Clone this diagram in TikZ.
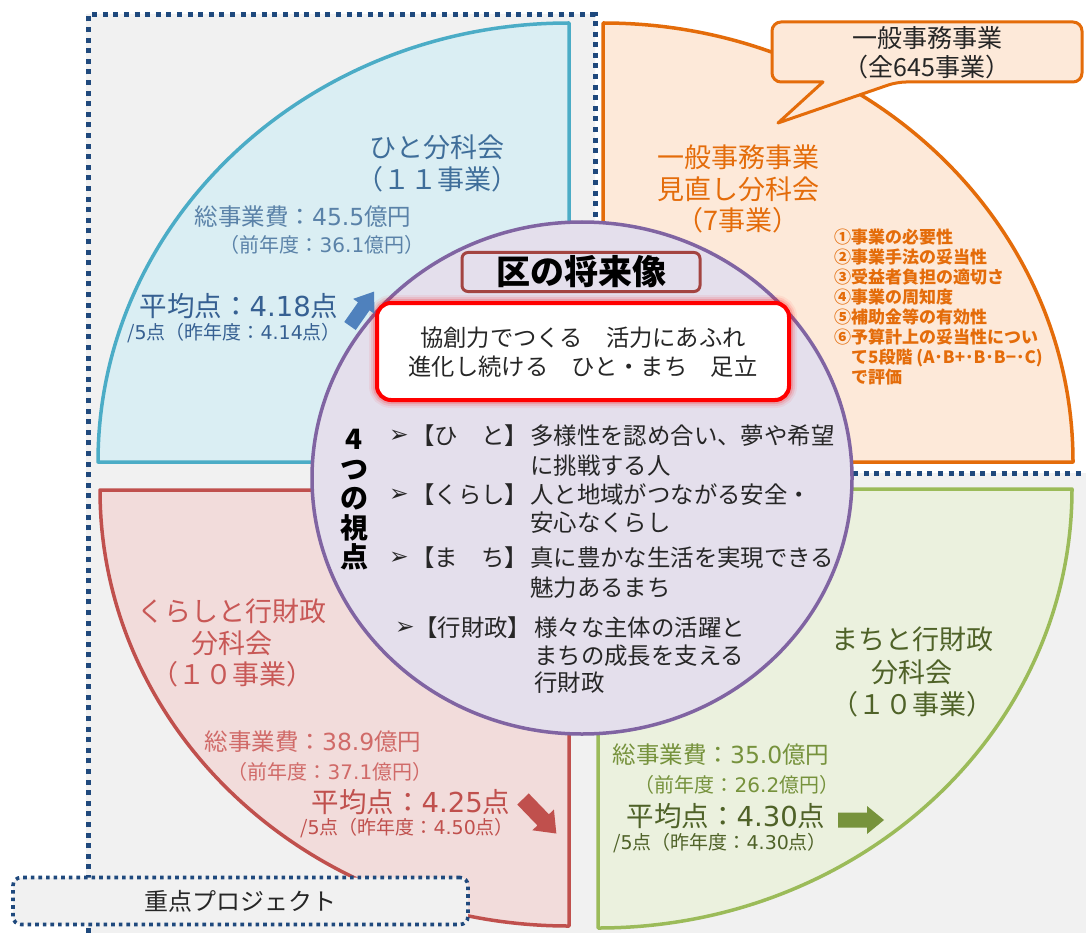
\documentclass[tikz,border=0pt]{standalone}
\usepackage{fontspec}
\setmainfont{Noto Sans CJK JP}
\newfontfamily\dv{DejaVu Sans}
\newcommand\nm[1]{{\dv #1}}
\newcommand\fs[2]{\fontsize{#1}{#2}\selectfont}
\definecolor{bgG}{HTML}{F1F1F1}
\definecolor{navy}{HTML}{1F497D}
\definecolor{cyF}{HTML}{DAEEF3}
\definecolor{cyL}{HTML}{4BACC6}
\definecolor{orF}{HTML}{FDE9D9}
\definecolor{orL}{HTML}{E46C0A}
\definecolor{rdF}{HTML}{F2DCDB}
\definecolor{rdL}{HTML}{C0504D}
\definecolor{grF}{HTML}{EBF1DE}
\definecolor{grL}{HTML}{9BBB59}
\definecolor{puF}{HTML}{E4DFEC}
\definecolor{puL}{HTML}{8064A2}
\definecolor{tlT}{HTML}{3F6E9A}
\definecolor{tlS}{HTML}{5A82A8}
\definecolor{tlA}{HTML}{366092}
\definecolor{blA}{HTML}{4F81BD}
\definecolor{rdT}{HTML}{C85856}
\definecolor{rdS}{HTML}{D06A68}
\definecolor{grT}{HTML}{4F6228}
\definecolor{grS}{HTML}{76923C}
\definecolor{grA}{HTML}{77933C}
\definecolor{txK}{HTML}{262626}
\tikzset{
  quad/.style={line width=3.5pt, line join=round},
  dotline/.style={draw=navy, line width=5pt, dash pattern=on 5pt off 5.6pt},
  txt/.style={inner sep=0pt, align=center},
  item/.style={inner sep=0pt, anchor=west, text=txK, font=\fs{23.4}{28}},
}
\begin{document}
\begin{tikzpicture}[x=1pt,y=-1pt]
\useasboundingbox (0,0) rectangle (1086,933);
\fill[white] (0,0) rectangle (1086,933);
% background region of the priority project
\fill[bgG] (86,14) -- (595,14) -- (595,473) -- (1086,473) -- (1086,933) -- (86,933) -- cycle;
\draw[dotline] (88,933) -- (88,15) -- (595,15) -- (595,473) -- (1086,473);
% four quadrants
\filldraw[quad, fill=cyF, draw=cyL] (569,462) -- (98,462) arc[start angle=180, end angle=270, x radius=471, y radius=439] -- cycle;
\filldraw[quad, fill=orF, draw=orL] (603,462) -- (603,23) arc[start angle=270, end angle=360, x radius=470, y radius=439] -- cycle;
\filldraw[quad, fill=rdF, draw=rdL] (569,490) -- (100,490) arc[start angle=180, end angle=90, x radius=469, y radius=436] -- cycle;
\filldraw[quad, fill=grF, draw=grL] (598,489) -- (1072,489) arc[start angle=0, end angle=90, x radius=474, y radius=439] -- cycle;
% central circle
\filldraw[fill=puF, draw=puL, line width=3.5pt] (582,478) ellipse[x radius=270, y radius=256];
% title box
\node[draw=rdL!85!black, line width=3pt, fill=puF, rounded corners=6, minimum width=238, minimum height=39, inner sep=0pt, font=\bfseries\fs{34}{38}] (vision) at (581,272) {区の将来像};
% red box with glow
\foreach \w/\o in {16/0.06, 12/0.10, 8/0.16} {
  \draw[red, line width=\w pt, opacity=\o, rounded corners=14] (377,303) rectangle (789,400);
}
\node[draw=red, line width=4pt, fill=white, rounded corners=14, minimum width=412, minimum height=97, inner sep=0pt] (motto) at (583,351.5) {};
\node[txt, text=txK, font=\fs{23.3}{29}] (mottoT) at (583,352) {協創力でつくる　活力にあふれ\\進化し続ける　ひと・まち　足立};
% four viewpoints
\node[txt, text=black, font=\bfseries\fs{28}{29.5}] (four) at (354,500) {4\\つ\\の\\視\\点};
\node[item] (b1) at (389,436) {\dv ➢};
\node[item] (l1) at (411,436) {【ひ　と】};
\node[item] (d1) at (530,436) {多様性を認め合い、夢や希望};
\node[item] (d1b) at (530,466) {に挑戦する人};
\node[item] (b2) at (389,495) {\dv ➢};
\node[item] (l2) at (411,495) {【くらし】};
\node[item] (d2) at (530,495) {人と地域がつながる安全・};
\node[item] (d2b) at (530,523) {安心なくらし};
\node[item] (b3) at (389,558) {\dv ➢};
\node[item] (l3) at (411,558) {【ま　ち】};
\node[item] (d3) at (530,558) {真に豊かな生活を実現できる};
\node[item] (d3b) at (530,588) {魅力あるまち};
\node[item] (b4) at (395,628) {\dv ➢};
\node[item] (l4) at (414,628) {【行財政】};
\node[item] (d4) at (534,628) {様々な主体の活躍と};
\node[item] (d4b) at (534,656) {まちの成長を支える};
\node[item] (d4c) at (534,683) {行財政};
% top-left: hito
\node[txt, text=tlT, font=\fs{27}{32}] (tlTitle) at (437,163) {ひと分科会\\（１１事業）};
\node[txt, text=tlS, font=\fs{23.5}{27}] (tlCost) at (303,217) {総事業費：\nm{45.5}億円};
\node[txt, text=tlS, font=\fs{20}{23}] (tlPrev) at (322,245) {（前年度：\nm{36.1}億円）};
\node[txt, text=tlA, font=\fs{27.5}{31}] (tlAvg) at (239,306) {平均点：\nm{4.18}点};
\node[txt, text=tlA, font=\fs{19}{22}] (tlSub) at (234,333) {/\nm{5}点（昨年度：\nm{4.14}点）};
\begin{scope}[shift={(350,326)}, rotate=55]
  \fill[blA] (0,-7) -- (24,-7) -- (24,-13) -- (42,0) -- (24,13) -- (24,7) -- (0,7) -- cycle;
\end{scope}
% top-right: general affairs
\node[txt, text=orL, font=\fs{27}{31.5}] (trTitle) at (738,189) {一般事務事業\\見直し分科会\\（7事業）};
\node[inner sep=0pt, anchor=north west, align=left, text=orL, font=\bfseries\fs{17}{20}] (trList) at (834,229) {①事業の必要性\\②事業手法の妥当性\\③受益者負担の適切さ\\④事業の周知度\\⑤補助金等の有効性\\⑥予算計上の妥当性につい\\\hspace*{1em}て5段階 (A･B+･B･B−･C)\\\hspace*{1em}で評価};
% bottom-left: kurashi
\node[txt, text=rdT, font=\fs{27}{31.5}] (blTitle) at (232,643) {くらしと行財政\\分科会\\（１０事業）};
\node[txt, text=rdS, font=\fs{23.5}{27}] (blCost) at (313,742) {総事業費：\nm{38.9}億円};
\node[txt, text=rdS, font=\fs{20}{23}] (blPrev) at (330,772) {（前年度：\nm{37.1}億円）};
\node[txt, text=rdL, font=\fs{27.5}{31}] (blAvg) at (411,802) {平均点：\nm{4.25}点};
\node[txt, text=rdL, font=\fs{19}{22}] (blSub) at (407,828) {/\nm{5}点（昨年度：\nm{4.50}点）};
\begin{scope}[shift={(523,799)}, rotate=-46]
  \fill[rdL] (0,-8) -- (29,-8) -- (29,-15) -- (48,0) -- (29,15) -- (29,8) -- (0,8) -- cycle;
\end{scope}
% bottom-right: machi
\node[txt, text=grT, font=\fs{27}{32.5}] (brTitle) at (912,672) {まちと行財政\\分科会\\（１０事業）};
\node[txt, text=grS, font=\fs{23.5}{27}] (brCost) at (721,755) {総事業費：\nm{35.0}億円};
\node[txt, text=grS, font=\fs{20}{23}] (brPrev) at (737,785) {（前年度：\nm{26.2}億円）};
\node[txt, text=grT, font=\fs{27.5}{31}] (brAvg) at (726,816) {平均点：\nm{4.30}点};
\node[txt, text=grT, font=\fs{19}{22}] (brSub) at (720,843) {/\nm{5}点（昨年度：\nm{4.30}点）};
\begin{scope}[shift={(838,820)}]
  \fill[grA] (0,-7.5) -- (29,-7.5) -- (29,-14) -- (46,0) -- (29,14) -- (29,7.5) -- (0,7.5) -- cycle;
\end{scope}
% callout
\filldraw[fill=orF, draw=orL, line width=3pt, line join=round] (823,82) [rounded corners=9] -- (772,82) -- (772,22) -- (1082,22) -- (1082,82) -- (897,82) [sharp corners] -- (778,123) -- cycle;
\node[txt, text=txK, font=\fs{25}{29}] (callout) at (927,53) {一般事務事業\\（全645事業）};
% priority project label
\node[draw=navy, line width=3.6pt, dash pattern=on 3.6pt off 4pt, fill=bgG, rounded corners=8, minimum width=455, minimum height=47, inner sep=0pt, text=txK, font=\fs{24}{28}] (proj) at (240.5,901) {重点プロジェクト};
\end{tikzpicture}
\end{document}
